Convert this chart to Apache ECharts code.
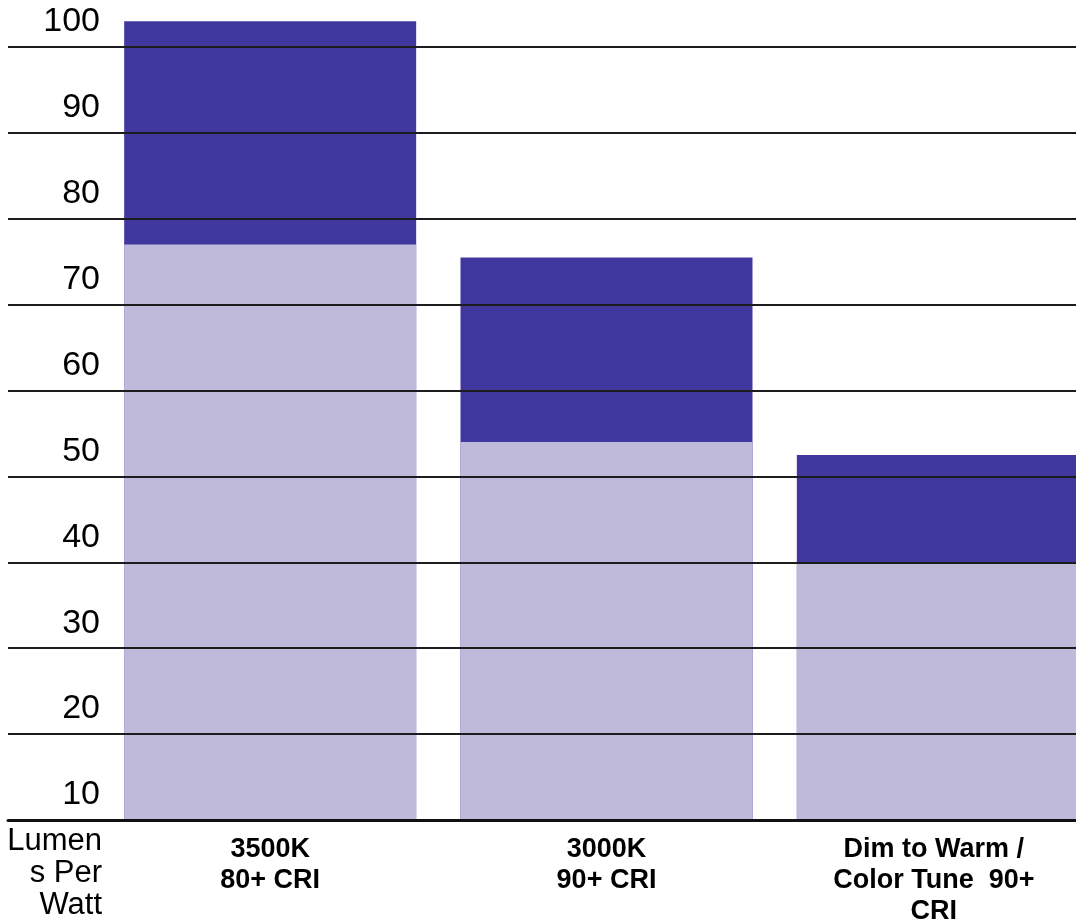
<!DOCTYPE html>
<html>
<head>
<meta charset="utf-8">
<script src="https://cdn.jsdelivr.net/npm/echarts@6/dist/echarts.min.js"></script>
<style>
html,body{margin:0;padding:0;background:#fff;overflow:hidden;width:1076px;height:924px;}
#chart{width:1111px;height:924px;}
</style>
</head>
<body>
<div id="chart"></div>
<script>
// Data
const categories = ['3500K\n80+ CRI', '3000K\n90+ CRI', 'Dim to Warm /\nColor Tune  90+\nCRI'];
const rangeTop = [103, 75.5, 52.5];   // top of dark band (upper end)
const rangeLow = [77, 54, 40];        // top of light band (lower end)
const yTicks = [10, 20, 30, 40, 50, 60, 70, 80, 90, 100];
const yName = 'Lumen\ns Per\nWatt';

const FONT = '"Liberation Sans", Arial, Helvetica, sans-serif';
const DARK = '#41389f';
const LIGHT = '#bfbada';
const GRID_LINE = '#1c1c1c';

// the last category label sits a little left of its band centre in the reference
const labelShift = [0, 0, 18];
const categoryItems = categories.map((c, i) => ({
  value: c,
  textStyle: {padding: [0, labelShift[i], 0, 0]}
}));

const chart = echarts.init(document.getElementById('chart'), null, {renderer: 'canvas'});
const option = {
  animation: false,
  backgroundColor: '#ffffff',
  grid: [
    {left: 102, right: 0, top: 21.23, bottom: 104, containLabel: false, outerBoundsMode: 'none'},
    {left: 8, width: 94, top: 47, bottom: 104, containLabel: false, outerBoundsMode: 'none'}
  ],
  xAxis: [
    {
      type: 'category', gridIndex: 0, data: categoryItems, z: 10,
      axisLine: {show: true, lineStyle: {color: '#111', width: 3}},
      axisTick: {show: false},
      axisLabel: {
        interval: 0, margin: 14, color: '#000', fontFamily: FONT,
        fontWeight: 'bold', fontSize: 27, lineHeight: 31
      },
      splitLine: {show: false}
    },
    {
      type: 'value', gridIndex: 1, min: 0, max: 1, show: true, z: 10,
      axisLine: {show: true, lineStyle: {color: '#111', width: 3}},
      axisTick: {show: false}, axisLabel: {show: false}, splitLine: {show: false}
    }
  ],
  yAxis: [
    {
      type: 'value', gridIndex: 0, min: yTicks[0], max: rangeTop[0], interval: 10, z: 5,
      axisLine: {show: false}, axisTick: {show: false},
      axisLabel: {
        show: true, margin: 2, color: '#000', fontFamily: FONT, fontSize: 34,
        verticalAlign: 'bottom', lineHeight: 34, padding: [0, 0, 8, 0],
        formatter: v => (yTicks.indexOf(v) >= 0 ? String(v) : '')
      },
      splitLine: {show: true, showMaxLine: false, lineStyle: {color: GRID_LINE, width: 2}},
      name: yName, nameLocation: 'start', nameGap: 5,
      nameTextStyle: {
        color: '#000', fontFamily: FONT, fontSize: 31, lineHeight: 32,
        align: 'right', verticalAlign: 'top', padding: [0, 0, 0, 0]
      }
    },
    {
      type: 'value', gridIndex: 1, min: yTicks[0], max: yTicks[yTicks.length - 1], interval: 10, z: 5,
      axisLine: {show: false}, axisTick: {show: false}, axisLabel: {show: false},
      splitLine: {show: true, lineStyle: {color: GRID_LINE, width: 2}}
    }
  ],
  series: [
    {
      type: 'bar', xAxisIndex: 0, yAxisIndex: 0, data: rangeTop,
      barWidth: 292, barGap: '-100%', itemStyle: {color: DARK}, z: 2
    },
    {
      type: 'bar', xAxisIndex: 0, yAxisIndex: 0, data: rangeLow,
      barWidth: 292, barGap: '-100%', itemStyle: {color: LIGHT}, z: 3
    }
  ]
};
chart.setOption(option);
</script>
</body>
</html>
